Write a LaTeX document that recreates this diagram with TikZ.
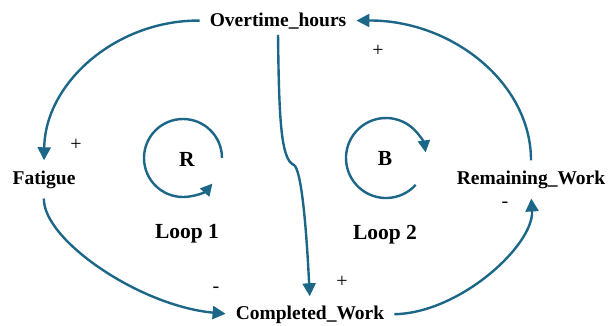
\documentclass[tikz,border=0pt]{standalone}
\usepackage{fontspec}
\setmainfont{Liberation Serif}
\usepackage{xcolor}
\usepackage{tikz}
\usetikzlibrary{arrows.meta}

\definecolor{cldblue}{RGB}{28,102,136}

\begin{document}
\begin{tikzpicture}[x=1pt, y=-1pt]
            \tikzstyle{every node}=[font=\bfseries\fontsize{19.5}{22}\selectfont, inner sep=4pt]
            \tikzstyle{link}=[draw=cldblue, line width=2.4pt, shorten <=6pt, shorten >=6pt, -{Triangle[length=13pt, width=13pt]}]
            \tikzstyle{loopline}=[draw=cldblue, line width=2.4pt, -{Triangle[length=12pt, width=12pt]}]
            \tikzstyle{sign}=[font=\fontsize{20}{22}\selectfont, inner sep=0pt]
            \tikzstyle{looplabel}=[font=\bfseries\fontsize{21.5}{24}\selectfont]

            \useasboundingbox (0,0) rectangle (611,325);

            % Variables
            \node[anchor=base] (ot) at (278,26) {Overtime\_hours};
            \node[anchor=base] (fa) at (44,184) {Fatigue};
            \node[anchor=base] (rw) at (531,184) {Remaining\_Work};
            \node[anchor=base] (cw) at (310,319) {Completed\_Work};

            % Causal links
            \draw[link] (ot.west) .. controls (116,20) and (45,83) .. (fa.north);
            \draw[link] (fa.south) .. controls (43,240) and (140,306) .. (cw.west);
            \draw[link] (cw.east) .. controls (460,313) and (534,245) .. (rw.south);
            \draw[link] (rw.north) .. controls (531,83) and (452,20) .. (ot.east);
            \coordinate (jog) at (294,165);
            \draw[link, shorten <=2pt, shorten >=5pt] (ot.south) .. controls (279,120) and (281,160) .. (jog)
                .. controls (301,170) and (306,220) .. (cw.north);

            % Polarities
            \node[sign] (s1) at (378,51) {+};
            \node[sign] (s2) at (76,145) {+};
            \node[sign] (s3) at (342,282) {+};
            \node[sign] (s4) at (505,205) {-};
            \node[sign] (s5) at (216,290) {-};

            % Loop 1 (reinforcing)
            \node[looplabel, anchor=base] (r) at (187,166) {R};
            \draw[loopline] (222,158) arc[start angle=0, end angle=-319, radius=39];
            \node[looplabel, anchor=base] (l1) at (187,238) {Loop 1};

            % Loop 2 (balancing)
            \node[looplabel, anchor=base] (b) at (385,165) {B};
            \draw[loopline] ([shift={(42:40)}]386,158) arc[start angle=42, end angle=352, radius=40];
            \node[looplabel, anchor=base] (l2) at (385,239) {Loop 2};
\end{tikzpicture}
\end{document}
